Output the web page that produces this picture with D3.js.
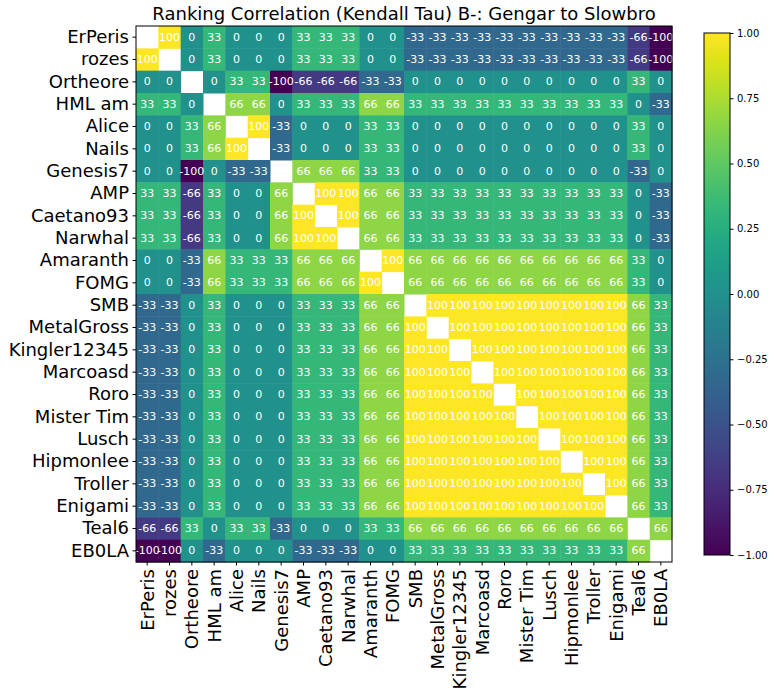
<!DOCTYPE html>
<html>
  <head>
    <meta charset="utf-8">
    <script src="https://d3js.org/d3.v7.min.js"></script>
    <style>
      body {
        margin: 0;
        background: white;
        font-family: "DejaVu Sans", sans-serif;
      }
    </style>
  </head>
  <body>
    <div id="chart"></div>
    <script>
      const players = [
        "ErPeris", "rozes", "Ortheore", "HML am", "Alice", "Nails",
        "Genesis7", "AMP", "Caetano93", "Narwhal", "Amaranth", "FOMG",
        "SMB", "MetalGross", "Kingler12345", "Marcoasd", "Roro",
        "Mister Tim", "Lusch", "Hipmonlee", "Troller", "Enigami",
        "Teal6", "EB0LA",
      ];

      // tau * 100 (null = diagonal, left blank)
      const N = null;
      const tau = [
        [N, 100, 0, 33, 0, 0, 0, 33, 33, 33, 0, 0, -33, -33, -33, -33, -33, -33, -33, -33, -33, -33, -66, -100],
        [100, N, 0, 33, 0, 0, 0, 33, 33, 33, 0, 0, -33, -33, -33, -33, -33, -33, -33, -33, -33, -33, -66, -100],
        [0, 0, N, 0, 33, 33, -100, -66, -66, -66, -33, -33, 0, 0, 0, 0, 0, 0, 0, 0, 0, 0, 33, 0],
        [33, 33, 0, N, 66, 66, 0, 33, 33, 33, 66, 66, 33, 33, 33, 33, 33, 33, 33, 33, 33, 33, 0, -33],
        [0, 0, 33, 66, N, 100, -33, 0, 0, 0, 33, 33, 0, 0, 0, 0, 0, 0, 0, 0, 0, 0, 33, 0],
        [0, 0, 33, 66, 100, N, -33, 0, 0, 0, 33, 33, 0, 0, 0, 0, 0, 0, 0, 0, 0, 0, 33, 0],
        [0, 0, -100, 0, -33, -33, N, 66, 66, 66, 33, 33, 0, 0, 0, 0, 0, 0, 0, 0, 0, 0, -33, 0],
        [33, 33, -66, 33, 0, 0, 66, N, 100, 100, 66, 66, 33, 33, 33, 33, 33, 33, 33, 33, 33, 33, 0, -33],
        [33, 33, -66, 33, 0, 0, 66, 100, N, 100, 66, 66, 33, 33, 33, 33, 33, 33, 33, 33, 33, 33, 0, -33],
        [33, 33, -66, 33, 0, 0, 66, 100, 100, N, 66, 66, 33, 33, 33, 33, 33, 33, 33, 33, 33, 33, 0, -33],
        [0, 0, -33, 66, 33, 33, 33, 66, 66, 66, N, 100, 66, 66, 66, 66, 66, 66, 66, 66, 66, 66, 33, 0],
        [0, 0, -33, 66, 33, 33, 33, 66, 66, 66, 100, N, 66, 66, 66, 66, 66, 66, 66, 66, 66, 66, 33, 0],
        [-33, -33, 0, 33, 0, 0, 0, 33, 33, 33, 66, 66, N, 100, 100, 100, 100, 100, 100, 100, 100, 100, 66, 33],
        [-33, -33, 0, 33, 0, 0, 0, 33, 33, 33, 66, 66, 100, N, 100, 100, 100, 100, 100, 100, 100, 100, 66, 33],
        [-33, -33, 0, 33, 0, 0, 0, 33, 33, 33, 66, 66, 100, 100, N, 100, 100, 100, 100, 100, 100, 100, 66, 33],
        [-33, -33, 0, 33, 0, 0, 0, 33, 33, 33, 66, 66, 100, 100, 100, N, 100, 100, 100, 100, 100, 100, 66, 33],
        [-33, -33, 0, 33, 0, 0, 0, 33, 33, 33, 66, 66, 100, 100, 100, 100, N, 100, 100, 100, 100, 100, 66, 33],
        [-33, -33, 0, 33, 0, 0, 0, 33, 33, 33, 66, 66, 100, 100, 100, 100, 100, N, 100, 100, 100, 100, 66, 33],
        [-33, -33, 0, 33, 0, 0, 0, 33, 33, 33, 66, 66, 100, 100, 100, 100, 100, 100, N, 100, 100, 100, 66, 33],
        [-33, -33, 0, 33, 0, 0, 0, 33, 33, 33, 66, 66, 100, 100, 100, 100, 100, 100, 100, N, 100, 100, 66, 33],
        [-33, -33, 0, 33, 0, 0, 0, 33, 33, 33, 66, 66, 100, 100, 100, 100, 100, 100, 100, 100, N, 100, 66, 33],
        [-33, -33, 0, 33, 0, 0, 0, 33, 33, 33, 66, 66, 100, 100, 100, 100, 100, 100, 100, 100, 100, N, 66, 33],
        [-66, -66, 33, 0, 33, 33, -33, 0, 0, 0, 33, 33, 66, 66, 66, 66, 66, 66, 66, 66, 66, 66, N, 66],
        [-100, -100, 0, -33, 0, 0, 0, -33, -33, -33, 0, 0, 33, 33, 33, 33, 33, 33, 33, 33, 33, 33, 66, N],
      ];

      const cbarTicks = [1, 0.75, 0.5, 0.25, 0, -0.25, -0.5, -0.75, -1];

      const W = 775, H = 697;
      const plot = { left: 136, top: 26, size: 536 };
      const cbar = { left: 704, top: 33, width: 26, height: 522 };

      const svg = d3.select("#chart").append("svg")
        .attr("width", W)
        .attr("height", H);

      const x = d3.scaleBand().domain(players).range([0, plot.size]);
      const y = d3.scaleBand().domain(players).range([0, plot.size]);
      const color = d3.scaleSequential(d3.interpolateViridis).domain([-1, 1]);

      const cells = [];
      tau.forEach((row, i) => row.forEach((v, j) => {
        cells.push({ r: players[i], c: players[j], v: v });
      }));

      const g = svg.append("g")
        .attr("transform", `translate(${plot.left},${plot.top})`);

      g.selectAll("rect.cell")
        .data(cells.filter(d => d.v !== null))
        .join("rect")
        .attr("class", "cell")
        .attr("x", d => x(d.c))
        .attr("y", d => y(d.r))
        .attr("width", x.bandwidth() + 0.5)
        .attr("height", y.bandwidth() + 0.5)
        .attr("fill", d => color(d.v / 100));

      g.selectAll("text.val")
        .data(cells.filter(d => d.v !== null))
        .join("text")
        .attr("class", "val")
        .attr("x", d => x(d.c) + x.bandwidth() / 2)
        .attr("y", d => y(d.r) + y.bandwidth() / 2)
        .attr("text-anchor", "middle")
        .attr("dominant-baseline", "central")
        .attr("fill", "white")
        .style("font-size", "11px")
        .text(d => d.v);

      // axes
      const yAxis = g.append("g")
        .call(d3.axisLeft(y).tickSize(3.5).tickPadding(3.5));
      yAxis.select(".domain").remove();
      yAxis.selectAll("text")
        .style("font-family", "DejaVu Sans")
        .style("font-size", "18px")
        .attr("fill", "black");

      const xAxis = g.append("g")
        .attr("transform", `translate(0,${plot.size})`)
        .call(d3.axisBottom(x).tickSize(3.5).tickPadding(3.5));
      xAxis.select(".domain").remove();
      xAxis.selectAll("text")
        .style("font-family", "DejaVu Sans")
        .style("font-size", "18px")
        .attr("fill", "black")
        .attr("text-anchor", "end")
        .attr("dominant-baseline", "central")
        .attr("transform", "rotate(-90)")
        .attr("x", -7)
        .attr("y", 0)
        .attr("dy", null);

      g.append("rect")
        .attr("width", plot.size)
        .attr("height", plot.size)
        .attr("fill", "none")
        .attr("stroke", "black")
        .attr("stroke-width", 1);

      // title
      svg.append("text")
        .attr("x", plot.left + plot.size / 2)
        .attr("y", 20)
        .attr("text-anchor", "middle")
        .style("font-size", "18px")
        .text("Ranking Correlation (Kendall Tau) B-: Gengar to Slowbro");

      // colorbar
      const grad = svg.append("defs").append("linearGradient")
        .attr("id", "cbar-grad")
        .attr("x1", 0).attr("y1", 1).attr("x2", 0).attr("y2", 0);
      d3.range(0, 1.0001, 0.05).forEach(t => {
        grad.append("stop")
          .attr("offset", t)
          .attr("stop-color", d3.interpolateViridis(t));
      });

      const cy = d3.scaleLinear().domain([-1, 1]).range([cbar.height, 0]);
      const cg = svg.append("g")
        .attr("transform", `translate(${cbar.left},${cbar.top})`);
      cg.append("rect")
        .attr("width", cbar.width)
        .attr("height", cbar.height)
        .attr("fill", "url(#cbar-grad)")
        .attr("stroke", "black")
        .attr("stroke-width", 1);

      const cAxis = cg.append("g")
        .attr("transform", `translate(${cbar.width},0)`)
        .call(d3.axisRight(cy).tickValues(cbarTicks)
          .tickFormat(d => d3.format(".2f")(d).replace("-", "\u2212"))
          .tickSize(3.5).tickPadding(3.5));
      cAxis.select(".domain").remove();
      cAxis.selectAll("text")
        .style("font-family", "DejaVu Sans")
        .style("font-size", "10px")
        .attr("fill", "black");
    </script>
  </body>
</html>
